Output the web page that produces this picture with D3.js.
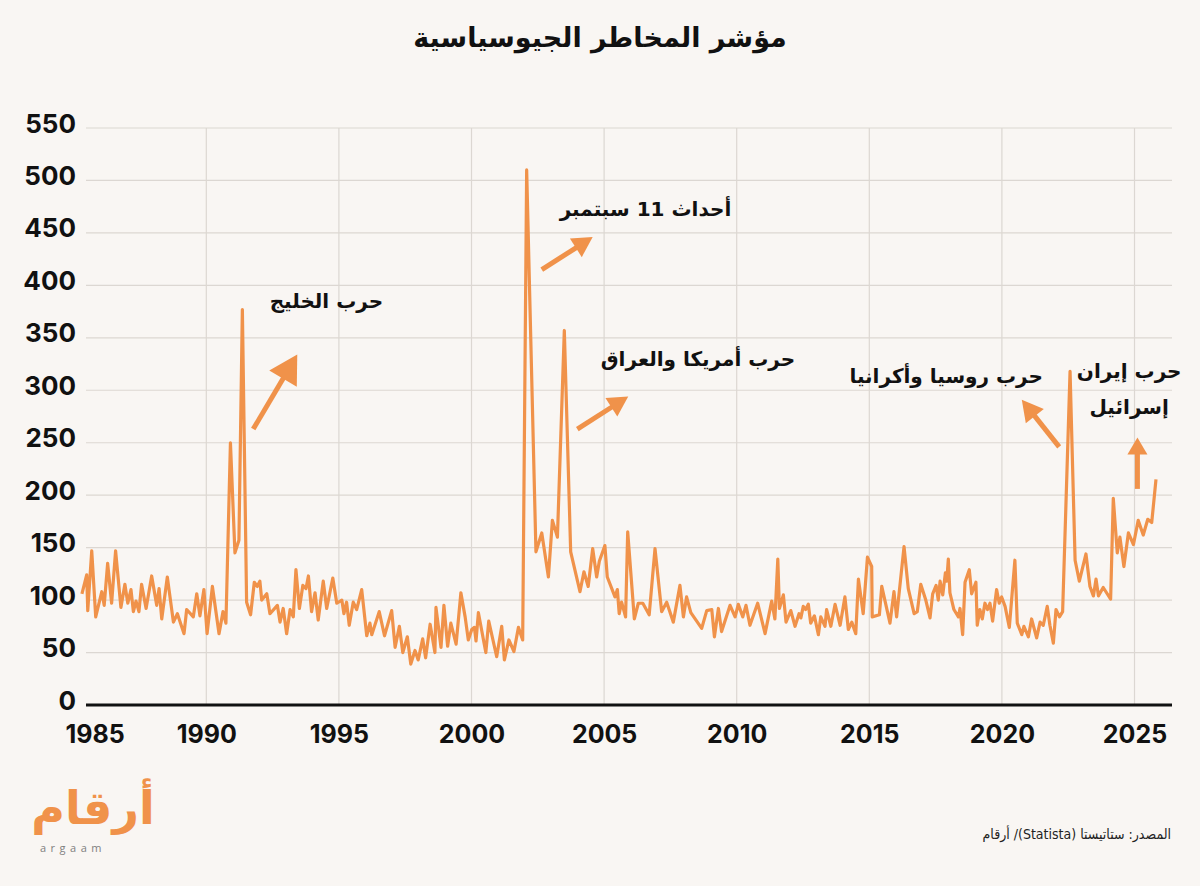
<!DOCTYPE html>
<html>
<head>
<meta charset="utf-8">
<title>مؤشر المخاطر الجيوسياسية</title>
<script src="https://cdn.jsdelivr.net/npm/d3@7"></script>
<style>
  body { margin: 0; background: #f9f6f3; }
  svg { display: block; }
</style>
</head>
<body>
<svg width="1200" height="886" id="mainsvg"></svg>
<script>
// ---- data ----
const yTicks = [0, 50, 100, 150, 200, 250, 300, 350, 400, 450, 500, 550]
const yearTicks = [1985, 1990, 1995, 2000, 2005, 2010, 2015, 2020, 2025]

// [decimal year, index value]
const gpr1985 = [[1985.31,106],[1985.49,124],[1985.53,90],[1985.68,147],[1985.83,84],[1986.06,108],[1986.15,95],[1986.28,135],[1986.43,97],[1986.58,147],[1986.78,93],[1986.93,115],[1987.04,97],[1987.16,110],[1987.25,89],[1987.35,99],[1987.46,89],[1987.56,115],[1987.73,92],[1987.94,123],[1988.13,95],[1988.22,111],[1988.32,82],[1988.53,122],[1988.76,79],[1988.91,87],[1989.16,68],[1989.26,91],[1989.51,84],[1989.64,106],[1989.76,85],[1989.91,110],[1990.03,68],[1990.23,113],[1990.48,68],[1990.63,89],[1990.74,78],[1990.91,250],[1991.08,145],[1991.23,157],[1991.36,377],[1991.52,98],[1991.67,86],[1991.81,117],[1991.92,113],[1992.02,118],[1992.09,100],[1992.28,106],[1992.40,87],[1992.68,95],[1992.78,79],[1992.90,92],[1993.03,68],[1993.16,91],[1993.28,84],[1993.38,129],[1993.51,92],[1993.64,114],[1993.76,111],[1993.85,123],[1993.97,89],[1994.10,107],[1994.22,81],[1994.41,118],[1994.54,92],[1994.77,121],[1994.92,97]]
const gpr1995 = [[1995.11,100],[1995.19,87],[1995.29,98],[1995.39,76],[1995.54,98],[1995.67,91],[1995.86,110],[1996.05,66],[1996.17,78],[1996.24,67],[1996.52,89],[1996.72,66],[1996.99,90],[1997.12,55],[1997.28,75],[1997.41,50],[1997.58,65],[1997.71,39],[1997.87,52],[1997.99,43],[1998.16,63],[1998.27,45],[1998.44,77],[1998.62,50],[1998.66,93],[1998.85,55],[1998.96,95],[1999.10,56],[1999.22,78],[1999.42,58],[1999.60,107],[1999.76,84],[1999.88,62],[2000.01,72],[2000.11,74],[2000.17,61],[2000.26,88],[2000.54,50],[2000.65,80],[2000.95,46],[2001.14,75],[2001.24,43],[2001.41,62],[2001.60,51],[2001.77,74],[2001.93,62],[2002.08,510],[2002.43,146],[2002.65,164],[2002.90,122],[2003.05,176],[2003.24,160],[2003.50,357],[2003.74,146],[2004.09,108],[2004.24,127],[2004.40,113],[2004.57,149],[2004.72,122],[2004.82,137]]
const gpr2005 = [[2005.03,152],[2005.12,122],[2005.41,103],[2005.50,110],[2005.57,87],[2005.66,98],[2005.81,84],[2005.89,165],[2006.14,82],[2006.29,97],[2006.46,97],[2006.70,86],[2006.92,149],[2007.17,89],[2007.36,98],[2007.61,79],[2007.86,114],[2007.99,84],[2008.11,103],[2008.27,88],[2008.68,73],[2008.87,90],[2009.06,91],[2009.16,65],[2009.31,92],[2009.43,70],[2009.75,95],[2009.94,84],[2010.06,96],[2010.23,84],[2010.35,95],[2010.50,76],[2010.79,97],[2011.07,68],[2011.32,99],[2011.44,82],[2011.55,139],[2011.61,92],[2011.76,105],[2011.86,79],[2012.04,90],[2012.20,75],[2012.35,87],[2012.42,83],[2012.51,94],[2012.60,91],[2012.70,96],[2012.79,78],[2012.93,85],[2013.08,67],[2013.17,84],[2013.33,75],[2013.39,91],[2013.55,75],[2013.71,96],[2013.90,76],[2014.08,103],[2014.21,72],[2014.34,79],[2014.49,68],[2014.59,120],[2014.77,87],[2014.93,141]]
const gpr2015 = [[2015.09,132],[2015.11,84],[2015.38,86],[2015.47,113],[2015.78,78],[2015.93,108],[2016.03,84],[2016.31,151],[2016.47,111],[2016.69,87],[2016.81,89],[2016.94,115],[2017.13,100],[2017.29,83],[2017.39,106],[2017.52,114],[2017.60,100],[2017.67,118],[2017.77,105],[2017.87,126],[2017.92,118],[2017.98,139],[2018.04,107],[2018.19,91],[2018.36,84],[2018.42,92],[2018.52,67],[2018.61,117],[2018.77,129],[2018.86,106],[2019.02,117],[2019.07,76],[2019.17,91],[2019.26,82],[2019.36,97],[2019.46,91],[2019.55,97],[2019.65,80],[2019.80,110],[2019.90,97],[2019.99,103],[2020.12,94],[2020.28,74],[2020.49,138],[2020.58,78],[2020.75,67],[2020.83,75],[2021.00,65],[2021.12,82],[2021.31,64],[2021.44,79],[2021.56,76],[2021.71,94],[2021.81,76],[2021.94,59],[2022.04,91],[2022.17,84],[2022.29,89],[2022.57,318],[2022.76,138],[2022.92,118],[2023.17,144],[2023.32,113],[2023.45,104],[2023.55,120],[2023.64,104],[2023.82,112],[2024.10,101],[2024.20,197],[2024.35,145],[2024.45,160],[2024.60,132],[2024.77,164],[2024.96,153],[2025.14,176],[2025.33,162],[2025.50,177],[2025.65,174],[2025.81,215]]

const eventNames = ['حرب الخليج', 'أحداث 11 سبتمبر', 'حرب أمريكا والعراق', 'حرب روسيا وأكرانيا', 'حرب إيران|إسرائيل']

// ---- layout ----
const svg = d3.select('#mainsvg')
const width = +svg.attr('width')
const height = +svg.attr('height')
const plotLeft = 86, plotRight = 1172
const orange = '#f0924a'
const arabicFont = "'DejaVu Sans', sans-serif"
const numFont = "Inter, 'DejaVu Sans', sans-serif"

svg.append('rect').attr('width', width).attr('height', height).attr('fill', '#f9f6f3')

const x = d3.scaleLinear().domain([1985, 2025]).range([73.7, 1134.5])
const y = d3.scaleLinear().domain([0, 550]).range([705, 128])

// title
svg.append('text')
    .attr('x', width / 2).attr('y', 47)
    .attr('text-anchor', 'middle')
    .attr('direction', 'rtl')
    .attr('font-family', arabicFont)
    .attr('font-weight', 'bold')
    .attr('font-size', 27)
    .attr('fill', '#111')
    .text('مؤشر المخاطر الجيوسياسية')

// grid
const grid = svg.append('g')
grid.selectAll('line.h')
    .data(yTicks.filter(d => d > 0))
    .join('line')
    .attr('class', 'h')
    .attr('x1', plotLeft).attr('x2', plotRight)
    .attr('y1', d => y(d)).attr('y2', d => y(d))
    .attr('stroke', '#dcd7d2').attr('stroke-width', 1.2)
grid.selectAll('line.v')
    .data(yearTicks.filter(d => d > 1985))
    .join('line')
    .attr('class', 'v')
    .attr('x1', d => x(d)).attr('x2', d => x(d))
    .attr('y1', y(550)).attr('y2', y(0))
    .attr('stroke', '#dcd7d2').attr('stroke-width', 1.2)

// y axis labels
const yAxis = svg.append('g')
    .attr('transform', `translate(${plotLeft},0)`)
    .call(d3.axisLeft(y).tickValues(yTicks).tickSize(0).tickPadding(10))
yAxis.select('.domain').remove()
yAxis.selectAll('text')
    .attr('dy', 4)
    .attr('font-family', numFont)
    .attr('font-weight', 'bold')
    .attr('font-size', 26)
    .attr('fill', '#111')

// x axis labels
const xAxis = svg.append('g')
    .attr('transform', `translate(0,${y(0)})`)
    .call(d3.axisBottom(x).tickValues(yearTicks).tickSize(0).tickFormat(d3.format('d')))
xAxis.select('.domain').remove()
xAxis.selectAll('text')
    .attr('y', 38).attr('dy', 0)
    .attr('dx', d => d === 1985 ? 21 : 0)   // first label pushed inside
    .attr('font-family', numFont)
    .attr('font-weight', 'bold')
    .attr('font-size', 25)
    .attr('fill', '#111')

// baseline
svg.append('line')
    .attr('x1', plotLeft).attr('x2', plotRight)
    .attr('y1', y(0)).attr('y2', y(0))
    .attr('stroke', '#111').attr('stroke-width', 2.8)

// the series
const series = [...gpr1985, ...gpr1995, ...gpr2005, ...gpr2015]
const line = d3.line().x(d => x(d[0])).y(d => y(d[1]))
svg.append('path')
    .datum(series)
    .attr('d', line)
    .attr('fill', 'none')
    .attr('stroke', orange)
    .attr('stroke-width', 3.2)
    .attr('stroke-linejoin', 'round')

// arrows (data coords) + head size [length, width]
const arrows = [
    { from: [1991.77, 263], to: [1993.43, 334], head: [28, 32] },
    { from: [2002.65, 415], to: [2004.57, 446], head: [20, 22] },
    { from: [2003.99, 263], to: [2005.91, 294], head: [20, 22] },
    { from: [2022.16, 246], to: [2020.75, 291], head: [21, 23] },
    { from: [2025.11, 206], to: [2025.11, 255], head: [17, 20] }
]
const arrowG = svg.append('g')
arrows.forEach(a => {
    const x0 = x(a.from[0]), y0 = y(a.from[1])
    const x1 = x(a.to[0]), y1 = y(a.to[1])
    const len = Math.hypot(x1 - x0, y1 - y0)
    const ux = (x1 - x0) / len, uy = (y1 - y0) / len
    const bx = x1 - ux * a.head[0], by = y1 - uy * a.head[0]
    const px = -uy * a.head[1] / 2, py = ux * a.head[1] / 2
    arrowG.append('line')
        .attr('x1', x0).attr('y1', y0)
        .attr('x2', bx + ux * 2).attr('y2', by + uy * 2)
        .attr('stroke', orange).attr('stroke-width', 5)
    arrowG.append('polygon')
        .attr('points', [[x1, y1], [bx + px, by + py], [bx - px, by - py]].map(p => p.join(',')).join(' '))
        .attr('fill', orange)
})

// event labels (centre positions in data coords)
const labelPos = [[1994.53, 386], [2006.56, 474], [2008.54, 331], [2017.90, 315], [2024.80, 319]]
const labelG = svg.append('g')
eventNames.forEach((name, i) => {
    const lines = name.split('|')
    const t = labelG.append('text')
        .attr('x', x(labelPos[i][0]))
        .attr('y', y(labelPos[i][1]) + 8)
        .attr('text-anchor', 'middle')
        .attr('direction', 'rtl')
        .attr('font-family', arabicFont)
        .attr('font-weight', 'bold')
        .attr('font-size', 20)
        .attr('fill', '#111')
    lines.forEach((l, j) => {
        t.append('tspan')
            .attr('x', x(labelPos[i][0]))
            .attr('dy', j === 0 ? 0 : 36)
            .text(l)
    })
})

// logo
const logo = svg.append('g')
logo.append('text')
    .attr('x', 93).attr('y', 824)
    .attr('text-anchor', 'middle')
    .attr('direction', 'rtl')
    .attr('font-family', arabicFont)
    .attr('font-weight', 'bold')
    .attr('font-size', 46)
    .attr('fill', orange)
    .text('أرقام')
logo.append('text')
    .attr('x', 40).attr('y', 852)
    .attr('font-family', "'Open Sans', sans-serif")
    .attr('font-size', 11)
    .attr('letter-spacing', 4.5)
    .attr('fill', '#808080')
    .text('argaam')

// source
svg.append('text')
    .attr('x', 1171).attr('y', 839)
    .attr('direction', 'rtl')
    .attr('text-anchor', 'start')
    .attr('font-family', "'DejaVu Sans Condensed', 'DejaVu Sans', sans-serif")
    .attr('font-size', 14)
    .attr('fill', '#222')
    .text('المصدر: ستاتيستا (Statista)/ أرقام')
</script>
</body>
</html>
